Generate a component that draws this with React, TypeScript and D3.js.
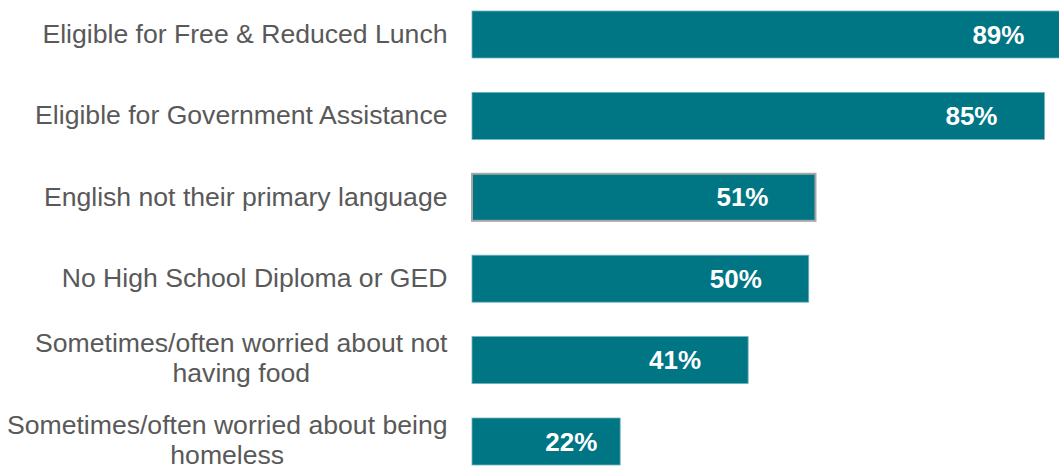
import React from "react";
import * as d3 from "d3";

const categories: string[][] = [
  ["Eligible for Free & Reduced Lunch"],
  ["Eligible for Government Assistance"],
  ["English not their primary language"],
  ["No High School Diploma or GED"],
  ["Sometimes/often worried about not", "having food"],
  ["Sometimes/often worried about being", "homeless"],
];
const values: number[] = [89, 85, 51, 50, 41, 22];
const valueLabels: string[] = ["89%", "85%", "51%", "50%", "41%", "22%"];
const highlighted: boolean[] = [false, false, true, false, false, false];

const W = 1059;
const H = 468;
const BAR = "#007584";
const FONT = "'Liberation Sans', Arial, sans-serif";
const CAT_SIZE = 26.6;

function measure(text: string, size: number): number {
  const c = document.createElement("canvas").getContext("2d")!;
  c.font = `${size}px ${FONT}`;
  return c.measureText(text).width;
}

export default function App() {
  const keys = categories.map((c) => c.join(" "));
  const x = d3.scaleLinear().domain([0, 100]).range([472, 472 + 673.5]);
  const y = d3
    .scaleBand<string>()
    .domain(keys)
    .range([-6.2, 482.2])
    .paddingInner(0.4226)
    .paddingOuter(0.2113);
  const bw = y.bandwidth();
  const right = 447.5;

  return (
    <svg
      width={W}
      height={H}
      style={{ position: "absolute", left: 0, top: 0, background: "#fff" }}
      fontFamily={FONT}
    >
      {keys.map((k, i) => {
        const top = y(k)!;
        const cy = top + bw / 2;
        const x0 = x(0);
        const x1 = x(values[i]);
        const w = x1 - x0;
        const labelX = x1 - Math.min(73, w * 0.33);
        const lines = categories[i];
        const blockW = Math.max(...lines.map((l) => measure(l, CAT_SIZE)));
        const blockCenter = right - blockW / 2;
        return (
          <g key={k}>
            <rect
              x={x0}
              y={top}
              width={w}
              height={bw}
              fill={BAR}
              stroke={highlighted[i] ? "#a6a6a6" : "#6fb3be"}
              strokeWidth={highlighted[i] ? 2 : 0.8}
            />
            <text
              x={labelX}
              y={cy + 9}
              textAnchor="middle"
              fill="#ffffff"
              fontWeight="bold"
              fontSize={26}
            >
              {valueLabels[i]}
            </text>
            {lines.length === 1 ? (
              <text x={right} y={cy + 8.5} textAnchor="end" fill="#595959" fontSize={CAT_SIZE}>
                {lines[0]}
              </text>
            ) : (
              lines.map((ln, j) => (
                <text
                  key={j}
                  x={blockCenter}
                  y={cy - 8 + j * 30}
                  textAnchor="middle"
                  fill="#595959"
                  fontSize={CAT_SIZE}
                >
                  {ln}
                </text>
              ))
            )}
          </g>
        );
      })}
    </svg>
  );
}
